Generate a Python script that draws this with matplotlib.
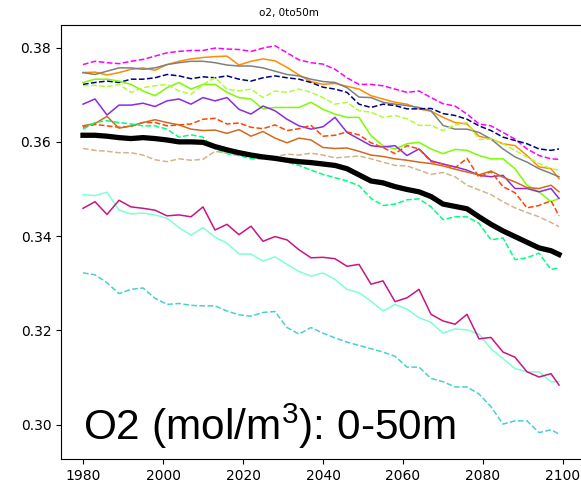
import matplotlib
matplotlib.use("Agg")
import matplotlib.pyplot as plt

plt.rcParams["mathtext.fontset"] = "custom"
plt.rcParams["mathtext.rm"] = "Liberation Sans"
plt.rcParams["mathtext.it"] = "Liberation Sans"

# years sampled every 3 years from the picture
years = list(range(1980, 2098, 3)) + [2099]

magenta = [.3764, .3771, .3768, .3766, .3771, .3775, .3782, .3789, .3792, .3794,
           .3794, .3799, .3797, .3796, .3792, .3799, .3804, .3789, .3774, .3768,
           .3765, .3754, .3736, .3722, .3722, .3719, .3712, .3705, .3708, .3694,
           .3681, .3676, .3659, .3638, .3634, .3620, .3606, .3585, .3571, .3564, .3563]
orange = [.3747, .3748, .3742, .3747, .3754, .3757, .3752, .3764, .3771, .3776,
          .3779, .3781, .3782, .3763, .3771, .3776, .3772, .3758, .3742, .3728,
          .3722, .3724, .3718, .3712, .3698, .3691, .3684, .3680, .3670, .3665,
          .3652, .3641, .3638, .3612, .3606, .3596, .3592, .3571, .3547, .3543, .3522]
gray = [.3747, .3743, .3750, .3757, .3757, .3754, .3757, .3764, .3768, .3771,
        .3771, .3768, .3763, .3761, .3761, .3757, .3750, .3743, .3740, .3733,
        .3728, .3726, .3715, .3695, .3694, .3684, .3680, .3677, .3673, .3666,
        .3635, .3627, .3627, .3620, .3606, .3585, .3568, .3557, .3543, .3533, .3526]
navy = [.3722, .3726, .3729, .3726, .3733, .3733, .3736, .3743, .3740, .3734,
        .3738, .3736, .3740, .3733, .3729, .3736, .3740, .3736, .3733, .3726,
        .3716, .3712, .3705, .3680, .3673, .3680, .3677, .3670, .3670, .3671,
        .3660, .3656, .3648, .3634, .3624, .3610, .3603, .3596, .3585, .3582, .3585]
lawngreen = [.3726, .3733, .3733, .3729, .3722, .3708, .3698, .3715, .3726, .3712,
             .3722, .3722, .3705, .3694, .3691, .3670, .3673, .3673, .3673, .3684,
             .3669, .3659, .3652, .3652, .3613, .3592, .3585, .3596, .3599, .3585,
             .3575, .3584, .3582, .3571, .3564, .3564, .3543, .3508, .3494, .3473, .3480]
greenyellow = [.3719, .3720, .3717, .3722, .3705, .3715, .3719, .3722, .3708, .3701,
               .3722, .3736, .3712, .3708, .3712, .3694, .3708, .3705, .3712, .3705,
               .3694, .3680, .3684, .3666, .3663, .3652, .3656, .3649, .3635, .3635,
               .3624, .3636, .3641, .3605, .3606, .3596, .3582, .3568, .3554, .3543, .3540]
blueviolet = [.3680, .3691, .3657, .3678, .3678, .3682, .3675, .3687, .3691, .3680,
              .3694, .3687, .3694, .3669, .3659, .3676, .3666, .3648, .3634, .3627,
              .3632, .3652, .3620, .3606, .3592, .3589, .3592, .3571, .3585, .3560,
              .3553, .3547, .3540, .3529, .3526, .3529, .3501, .3501, .3494, .3501, .3480]
orangered = [.3631, .3637, .3634, .3631, .3633, .3641, .3641, .3634, .3636, .3638,
             .3648, .3650, .3638, .3640, .3631, .3628, .3636, .3624, .3628, .3635,
             .3612, .3614, .3621, .3615, .3598, .3588, .3575, .3592, .3585, .3558,
             .3553, .3545, .3565, .3525, .3537, .3505, .3492, .3460, .3465, .3475, .3443]
chocolate = [.3634, .3639, .3654, .3629, .3634, .3641, .3647, .3641, .3636, .3627,
             .3624, .3625, .3618, .3626, .3612, .3622, .3608, .3598, .3608, .3604,
             .3588, .3586, .3587, .3580, .3572, .3569, .3564, .3561, .3557, .3554,
             .3549, .3542, .3536, .3530, .3538, .3525, .3515, .3503, .3501, .3508, .3494]
springgreen = [.3627, .3641, .3645, .3641, .3638, .3634, .3634, .3627, .3610, .3615,
               .3610, .3585, .3575, .3571, .3564, .3564, .3568, .3557, .3550, .3540,
               .3531, .3524, .3517, .3507, .3480, .3465, .3468, .3477, .3479, .3462,
               .3435, .3441, .3441, .3427, .3392, .3396, .3350, .3354, .3364, .3329, .3333]
black = [.3614, .3614, .3612, .3609, .3607, .3609, .3607, .3604, .3600, .3600,
         .3599, .3590, .3583, .3577, .3572, .3568, .3565, .3561, .3558, .3556,
         .3553, .3550, .3543, .3530, .3517, .3513, .3505, .3499, .3494, .3484,
         .3468, .3463, .3458, .3441, .3425, .3411, .3399, .3387, .3375, .3369, .3361]
tan = [.3586, .3582, .3580, .3577, .3577, .3572, .3562, .3558, .3564, .3561,
       .3563, .3580, .3576, .3572, .3574, .3570, .3568, .3574, .3572, .3576,
       .3572, .3566, .3568, .3570, .3564, .3557, .3550, .3549, .3540, .3531,
       .3535, .3526, .3508, .3498, .3488, .3473, .3460, .3450, .3441, .3429, .3420]
aquamarine = [.3488, .3486, .3493, .3455, .3447, .3449, .3445, .3438, .3418, .3402,
              .3418, .3398, .3385, .3362, .3362, .3347, .3356, .3340, .3325, .3315,
              .3322, .3308, .3287, .3280, .3262, .3241, .3255, .3245, .3227, .3217,
              .3194, .3203, .3201, .3192, .3161, .3140, .3119, .3112, .3112, .3091, .3091]
violetred = [.3459, .3473, .3446, .3476, .3462, .3459, .3455, .3443, .3445, .3441,
             .3462, .3413, .3425, .3403, .3421, .3389, .3399, .3392, .3371, .3354,
             .3355, .3352, .3336, .3340, .3298, .3305, .3261, .3269, .3287, .3234,
             .3220, .3213, .3234, .3182, .3185, .3154, .3143, .3112, .3101, .3108, .3084]
turquoise = [.3322, .3318, .3301, .3278, .3287, .3290, .3268, .3255, .3257, .3253,
             .3252, .3252, .3241, .3233, .3230, .3238, .3240, .3206, .3192, .3206,
             .3194, .3184, .3175, .3168, .3161, .3154, .3145, .3122, .3122, .3098,
             .3091, .3080, .3080, .3065, .3038, .3001, .3008, .3008, .2983, .2989, .2980]

series = [
    (magenta, "magenta", "--"),
    (orange, "darkorange", "-"),
    (gray, "gray", "-"),
    (navy, "navy", "--"),
    (lawngreen, "lawngreen", "-"),
    (greenyellow, "greenyellow", "--"),
    (blueviolet, "blueviolet", "-"),
    (orangered, "orangered", "--"),
    (chocolate, "chocolate", "-"),
    (springgreen, "springgreen", "--"),
    (tan, "tan", "--"),
    (aquamarine, "aquamarine", "-"),
    (violetred, "mediumvioletred", "-"),
    (turquoise, "mediumturquoise", "--"),
]

fig = plt.figure(figsize=(5.81, 4.87), dpi=100)
ax = fig.add_axes([61/581, 28/487, 522/581, 434/487])

for vals, col, ls in series:
    ax.plot(years, vals, color=col, linestyle=ls, linewidth=1.1)
ax.plot(years, black, color="black", linewidth=3.8)

ax.set_xlim(1974.5, 2105)
ax.set_ylim(0.2927, 0.3848)
ax.set_xticks([1980, 2000, 2020, 2040, 2060, 2080, 2100])
ax.set_yticks([0.30, 0.32, 0.34, 0.36, 0.38])
ax.tick_params(labelsize=10)

fig.text(289/581, 1 - 13/487, "o2, 0to50m", fontsize=7.5, ha="center", va="center")
fig.text(83/581, 47/487, "O2 (mol/m$^3$): 0-50m", fontsize=30.5,
         family="Liberation Sans", ha="left", va="baseline")

plt.savefig("out.png", dpi=100)
